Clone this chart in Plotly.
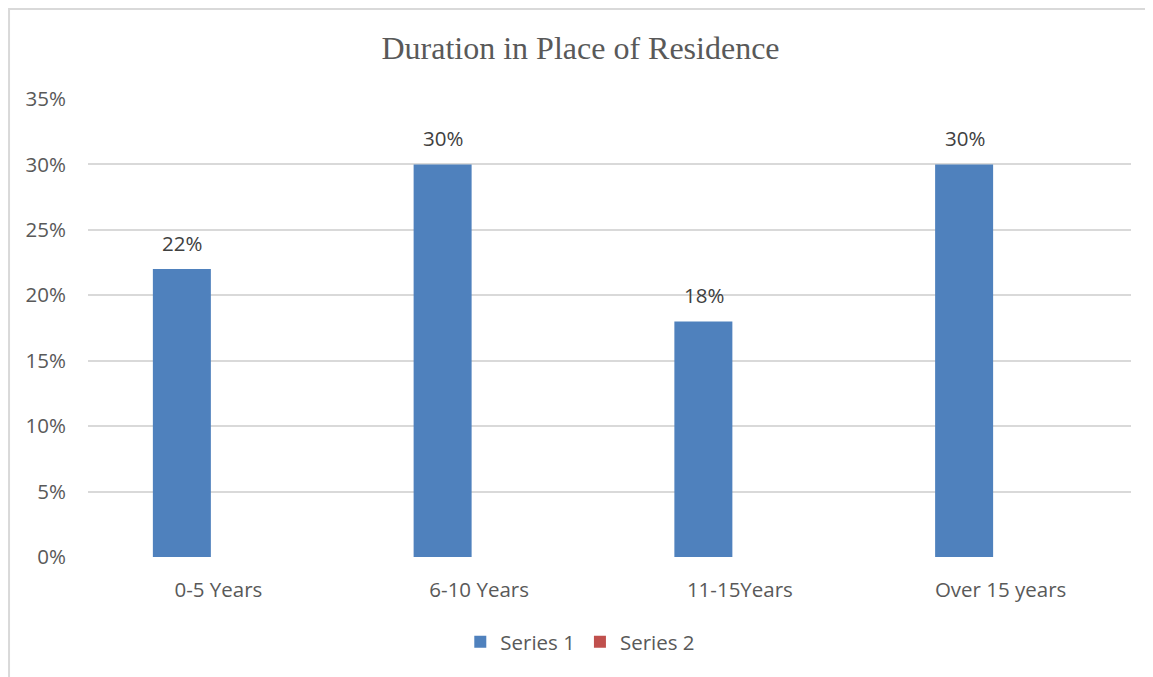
import plotly.graph_objects as go

categories = ["0-5 Years", "6-10 Years", "11-15Years", "Over 15 years"]
series1 = [0.22, 0.30, 0.18, 0.30]
series2 = [0, 0, 0, 0]
label_text = ["22%", "30%", "18%", "30%"]

FONT = "Open Sans, sans-serif"
GRAY = "#595959"

fig = go.Figure()
fig.add_trace(go.Bar(x=categories, y=series1, name="Series 1", marker_color="#4f81bd",
                     marker_line_width=0, width=0.2224, offset=-0.2512, hoverinfo="skip"))
fig.add_trace(go.Bar(x=categories, y=series2, name="Series 2", marker_color="#c0504d",
                     marker_line_width=0, width=0.2224, offset=0.03, hoverinfo="skip"))

for c, v, t in zip(categories, series1, label_text):
    fig.add_annotation(x=c, y=v, text=t, showarrow=False, xshift=-36, yshift=26,
                       font=dict(family=FONT, size=20.5, color="#404040"))

fig.add_shape(type="rect", xref="paper", yref="paper", x0=-0.0757, x1=1.05, y0=-0.4, y1=1.1965,
              line=dict(color="#d9d9d9", width=2), fillcolor="rgba(0,0,0,0)", layer="below")

fig.update_layout(
    width=1145, height=669,
    margin=dict(l=80, r=22, t=91, b=120),
    paper_bgcolor="white", plot_bgcolor="white",
    title=dict(text="Duration in Place of Residence", x=0.5, xanchor="center", y=0.940, yanchor="middle",
               font=dict(family="Liberation Serif, Times New Roman, serif", size=32, color=GRAY)),
    barmode="group",
    showlegend=True,
    legend=dict(orientation="h", x=0.472, xanchor="center", y=-0.142, yanchor="top",
                font=dict(family=FONT, size=20.5, color=GRAY), itemwidth=30),
    xaxis=dict(showgrid=False, showline=False, zeroline=False, ticks="",
               tickfont=dict(family=FONT, size=20.5, color=GRAY), ticklabelstandoff=18),
    yaxis=dict(range=[0, 0.35], dtick=0.05, tickformat=".0%", showgrid=True, gridcolor="#d9d9d9",
               gridwidth=1.5, zeroline=False, showline=False, ticks="",
               tickfont=dict(family=FONT, size=20.5, color=GRAY), ticklabelstandoff=21),
)

fig.write_html("out.html")
